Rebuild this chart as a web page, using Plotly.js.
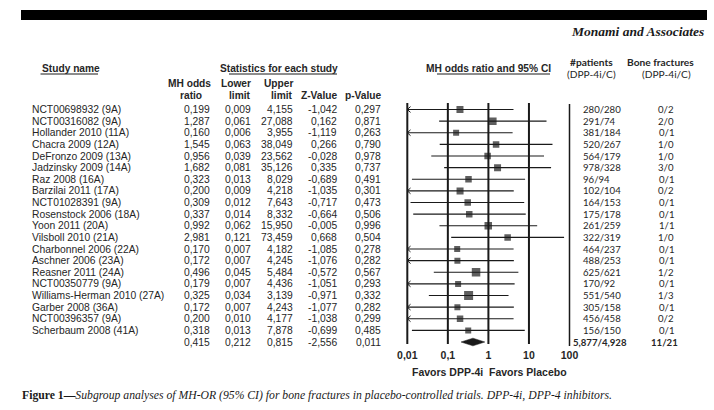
<!DOCTYPE html>
<html>
<head>
<meta charset="utf-8">
<script src="https://cdn.plot.ly/plotly-3.0.1.min.js"></script>
<style>html,body{margin:0;padding:0;background:#fff;}#chart{width:714px;height:410px;}</style>
</head>
<body>
<div id="chart"></div>
<script>
// ---------- data ----------
const studies = ["NCT00698932 (9A)","NCT00316082 (9A)","Hollander 2010 (11A)","Chacra 2009 (12A)","DeFronzo 2009 (13A)","Jadzinsky 2009 (14A)","Raz 2008 (16A)","Barzilai 2011 (17A)","NCT01028391 (9A)","Rosenstock 2006 (18A)","Yoon 2011 (20A)","Vilsboll 2010 (21A)","Charbonnel 2006 (22A)","Aschner 2006 (23A)","Reasner 2011 (24A)","NCT00350779 (9A)","Williams-Herman 2010 (27A)","Garber 2008 (36A)","NCT00396357 (9A)","Scherbaum 2008 (41A)"];
const oddsRatio = [0.199,1.287,0.160,1.545,0.956,1.682,0.323,0.200,0.309,0.337,0.992,2.981,0.170,0.172,0.496,0.179,0.325,0.172,0.200,0.318];
const lowerLimit = [0.009,0.061,0.006,0.063,0.039,0.081,0.013,0.009,0.012,0.014,0.062,0.121,0.007,0.007,0.045,0.007,0.034,0.007,0.010,0.013];
const upperLimit = [4.155,27.088,3.955,38.049,23.562,35.126,8.029,4.218,7.643,8.332,15.950,73.459,4.182,4.245,5.484,4.436,3.139,4.243,4.177,7.878];
const zValue = [-1.042,0.162,-1.119,0.266,-0.028,0.335,-0.689,-1.035,-0.717,-0.664,-0.005,0.668,-1.085,-1.076,-0.572,-1.051,-0.971,-1.077,-1.038,-0.699];
const pValue = [0.297,0.871,0.263,0.790,0.978,0.737,0.491,0.301,0.473,0.506,0.996,0.504,0.278,0.282,0.567,0.293,0.332,0.282,0.299,0.485];
const patients = ["280/280","291/74","381/184","520/267","564/179","978/328","96/94","102/104","164/153","175/178","261/259","322/319","464/237","488/253","625/621","170/92","551/540","305/158","456/458","156/150"];
const fractures = ["0/2","2/0","0/1","1/0","1/0","3/0","0/1","0/2","0/1","0/1","1/1","1/0","0/1","0/1","1/2","0/1","1/3","0/1","0/2","0/1"];
const boxSize = [7,7.5,6,6.5,6.5,7,6.5,7,6.5,6.5,7.5,6.5,6,6,8.5,6,9,6,6.5,6];
const summary = {or:0.415, lower:0.212, upper:0.815, z:-2.556, p:0.011, patients:"5,877/4,928", fractures:"11/21"};
const tickVals = [0.01,0.1,1,10,100];
const tickLabels = ["0,01","0,1","1","10","100"];

// ---------- helpers ----------
const W=714,H=410;
const PX = x => x/W;
const PY = y => 1 - y/H;
const fmt = v => v.toFixed(3).replace('.', ',');
const AXMIN = 0.01;
const sans = "Liberation Sans, Arial";
const cal = "Lato, Open Sans";
const serif = "Liberation Serif, Times New Roman";
const ink = "#1a1a1a";
const txt = "#262626";
const n = studies.length;
const sumRow = n;
const BODY = 10.3, HEAD = 10.2, CALB = 9.6, CALH = 10.2;

// ---------- traces ----------
const traces = [];
{
  const xs=[],ys=[];
  [0.01,0.1,1,10].forEach(v=>{xs.push(v,v,null);ys.push(-0.56,20.17,null);});
  traces.push({type:'scatter',mode:'lines',x:xs,y:ys,line:{color:ink,width:2},hoverinfo:'skip'});
  traces.push({type:'scatter',mode:'lines',x:[100,100],y:[-0.48,20.35],line:{color:ink,width:1.5},hoverinfo:'skip'});
}
{
  const xs=[],ys=[];
  for(let i=0;i<n;i++){xs.push(Math.max(lowerLimit[i],AXMIN),upperLimit[i],null);ys.push(i,i,null);}
  traces.push({type:'scatter',mode:'lines',x:xs,y:ys,line:{color:ink,width:1.2},hoverinfo:'skip'});
}
{
  const xs=[],ys=[];
  for(let i=0;i<n;i++){
    if(lowerLimit[i] <= 0.0105){
      const a = AXMIN*Math.pow(10,0.08);
      xs.push(a,AXMIN,a,null); ys.push(i-0.25,i,i+0.25,null);
    }
  }
  traces.push({type:'scatter',mode:'lines',x:xs,y:ys,line:{color:ink,width:1},hoverinfo:'skip'});
}
traces.push({type:'scatter',mode:'markers',x:oddsRatio,y:studies.map((s,i)=>i),
  marker:{symbol:'square',size:boxSize,color:ink,line:{width:0}},hoverinfo:'skip'});
traces.push({type:'scatter',mode:'lines',fill:'toself',fillcolor:ink,
  x:[summary.lower,summary.or,summary.upper,summary.or,summary.lower],
  y:[sumRow,sumRow-0.33,sumRow,sumRow+0.33,sumRow],
  line:{color:ink,width:0.5},hoverinfo:'skip'});

// ---------- annotations ----------
const ann = [];
function A(text,x,y,opt){ann.push(Object.assign({text:text,x:PX(x),y:y,xref:'paper',yref:'y',showarrow:false,xanchor:'left',yanchor:'middle',borderpad:0,font:{family:sans,size:BODY,color:txt}},opt||{}));}
function P(text,x,y,opt){ann.push(Object.assign({text:text,x:PX(x),y:PY(y),xref:'paper',yref:'paper',showarrow:false,xanchor:'left',yanchor:'middle',borderpad:0,font:{family:sans,size:HEAD,color:txt}},opt||{}));}

for(let i=0;i<n;i++){
  A(studies[i],30.5,i);
  A(fmt(oddsRatio[i]),211,i,{xanchor:'right'});
  A(fmt(lowerLimit[i]),251.5,i,{xanchor:'right'});
  A(fmt(upperLimit[i]),294,i,{xanchor:'right'});
  A(fmt(zValue[i]),337.5,i,{xanchor:'right'});
  A(fmt(pValue[i]),381.5,i,{xanchor:'right'});
  A(patients[i],582,i,{font:{family:cal,size:CALB,color:txt}});
  A(fractures[i],666,i,{xanchor:'center',font:{family:cal,size:CALB,color:txt}});
}
A(fmt(summary.or),211,sumRow,{xanchor:'right'});
A(fmt(summary.lower),251.5,sumRow,{xanchor:'right'});
A(fmt(summary.upper),294,sumRow,{xanchor:'right'});
A(fmt(summary.z),337.5,sumRow,{xanchor:'right'});
A(fmt(summary.p),381.5,sumRow,{xanchor:'right'});
A('<b>'+summary.patients+'</b>',572,sumRow,{font:{family:cal,size:CALB,color:txt}});
A('<b>'+summary.fractures+'</b>',664,sumRow,{xanchor:'center',font:{family:cal,size:CALB,color:txt}});

// headers
P('<b>Study name</b>',40.5,68);
P('<b>Statistics for each study</b>',278.5,68,{xanchor:'center'});
P('<b>MH odds ratio and 95% CI</b>',488.5,68,{xanchor:'center'});
P('<b>MH odds</b>',211.5,83.5,{xanchor:'right'});
P('<b>ratio</b>',203,95,{xanchor:'right'});
P('<b>Lower</b>',251.5,83.5,{xanchor:'right'});
P('<b>limit</b>',251.5,95,{xanchor:'right'});
P('<b>Upper</b>',294,83.5,{xanchor:'right'});
P('<b>limit</b>',294,95,{xanchor:'right'});
P('<b>Z-Value</b>',339,95,{xanchor:'right'});
P('<b>p-Value</b>',382.5,95,{xanchor:'right'});
P('<b>#patients</b>',591,62,{xanchor:'center',font:{family:cal,size:CALH,color:txt}});
P('(DPP-4i/C)',591,74.5,{xanchor:'center',font:{family:cal,size:CALH,color:txt}});
P('<b>Bone fractures</b>',660.5,62,{xanchor:'center',font:{family:cal,size:CALH,color:txt}});
P('(DPP-4i/C)',666,74.5,{xanchor:'center',font:{family:cal,size:CALH,color:txt}});
P('<b>Favors DPP-4i</b>',484,372,{xanchor:'right',font:{family:sans,size:10.5,color:txt}});
P('<b>Favors Placebo</b>',488,372,{xanchor:'left',font:{family:sans,size:10.5,color:txt}});
P('<b><i>Monami and Associates</i></b>',705,32,{xanchor:'right',font:{family:serif,size:13.5,color:ink}});
P('<b>Figure 1—</b><i>Subgroup analyses of MH-OR (95% CI) for bone fractures in placebo-controlled trials. DPP-4i, DPP-4 inhibitors.</i>',21,395,{font:{family:serif,size:11.7,color:ink}});

// ---------- shapes ----------
const shapes = [
  {type:'rect',xref:'paper',yref:'paper',x0:PX(21),x1:PX(707),y0:PY(20),y1:PY(10),fillcolor:'#000',line:{width:0}},
  {type:'line',xref:'paper',yref:'paper',x0:PX(40.5),x1:PX(98),y0:PY(74),y1:PY(74),line:{color:ink,width:1}},
  {type:'line',xref:'paper',yref:'paper',x0:PX(229),x1:PX(337),y0:PY(74),y1:PY(74),line:{color:ink,width:1}},
  {type:'line',xref:'paper',yref:'paper',x0:PX(437),x1:PX(550),y0:PY(74),y1:PY(74),line:{color:ink,width:1}}
];

// ---------- layout ----------
const rowTop = 109.5, rowStep = 11.625;
const decadePx = 40.55, x001 = 407.3, pad = 0.05;
const layout = {
  width:W,height:H,margin:{l:0,r:0,t:0,b:0},
  paper_bgcolor:'#fff',plot_bgcolor:'rgba(0,0,0,0)',showlegend:false,
  xaxis:{type:'log',range:[-2-pad,2+pad],
    domain:[PX(x001-pad*decadePx),PX(x001+4*decadePx+pad*decadePx)],
    anchor:'free',position:(H-347)/H,
    showgrid:false,zeroline:false,showline:false,ticks:'',
    tickvals:tickVals,ticktext:tickLabels.map(t=>'<b>'+t+'</b>'),
    tickfont:{family:sans,size:10.5,color:txt},fixedrange:true},
  yaxis:{range:[(H-rowTop)/rowStep,-rowTop/rowStep],domain:[0,1],visible:false,fixedrange:true},
  annotations:ann,shapes:shapes
};
Plotly.newPlot('chart',traces,layout,{staticPlot:true,displayModeBar:false});
</script>
</body>
</html>
